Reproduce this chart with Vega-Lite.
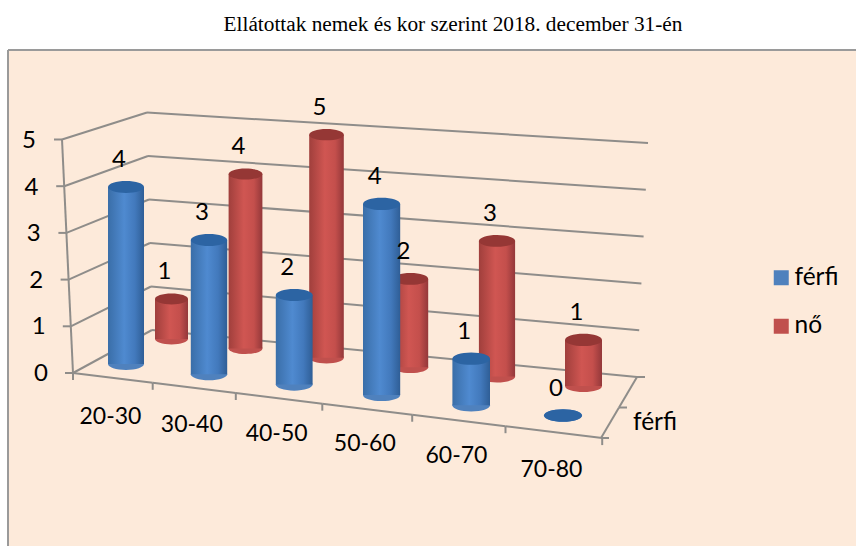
{
"$schema":"https://vega.github.io/schema/vega-lite/v6.json",
"width":848,"height":496,
"autosize":{"type":"none"},
"padding":{"left":8,"top":50,"right":0,"bottom":0},
"background":"#ffffff",
"config":{"view":{"fill":"#FDEADA","stroke":null},"text":{"font":"Lato","fontSize":24,"color":"#000000"}},
"title":{"text":"Ellátottak nemek és kor szerint 2018. december 31-én","font":"Liberation Serif","fontSize":21.3,"fontWeight":"normal","color":"#000000","anchor":"middle","dx":21,"offset":14},
"datasets":{
"oszlopok":[
{"kor":"20-30","nem":"férfi","n":4,"v":4.07},{"kor":"30-40","nem":"férfi","n":3,"v":3.09},{"kor":"40-50","nem":"férfi","n":2,"v":2.06},{"kor":"50-60","nem":"férfi","n":4,"v":4.39},{"kor":"60-70","nem":"férfi","n":1,"v":1.07},{"kor":"70-80","nem":"férfi","n":0,"v":0},
{"kor":"20-30","nem":"nő","n":1,"v":0.92},{"kor":"30-40","nem":"nő","n":4,"v":4.01},{"kor":"40-50","nem":"nő","n":5,"v":5.13},{"kor":"50-60","nem":"nő","n":2,"v":2.03},{"kor":"60-70","nem":"nő","n":3,"v":3.12},{"kor":"70-80","nem":"nő","n":1,"v":1.06}],
"szintek":[{"k":0},{"k":1},{"k":2},{"k":3},{"k":4},{"k":5}],
"hatarok":[{"c":0},{"c":1},{"c":2},{"c":3},{"c":4},{"c":5},{"c":6}],
"korok":[{"c":0,"kor":"20-30"},{"c":1,"kor":"30-40"},{"c":2,"kor":"40-50"},{"c":3,"kor":"50-60"},{"c":4,"kor":"60-70"},{"c":5,"kor":"70-80"}],
"sorok":[{"d":0},{"d":1},{"d":2}]
},
"data":{"name":"oszlopok"},
"transform":[
{"calculate":"indexof(['20-30','30-40','40-50','50-60','60-70','70-80'],datum.kor)","as":"c"},
{"calculate":"datum.nem==='férfi'?0:1","as":"d"},
{"calculate":"datum.d===0?126+81.9*datum.c+1.1*datum.c*datum.c:[171.5,245.5,326.5,410.5,497,583.5][datum.c]","as":"cx"},
{"calculate":"datum.d===0?364+10.3*datum.c:339+9.4*datum.c","as":"yb"},
{"calculate":"datum.d===0?36+0.4*datum.c:33+0.8*datum.c","as":"w"},
{"calculate":"datum.yb-datum.v*43.5","as":"top"},
{"calculate":"datum.w*datum.w","as":"s"}
],
"encoding":{
"x":{"field":"x","type":"quantitative","axis":null,"scale":{"domain":[8,856],"nice":false,"zero":false}},
"y":{"field":"y","type":"quantitative","axis":null,"scale":{"domain":[546,50],"nice":false,"zero":false}}
},
"layer":[
{"data":{"values":[{"keret":"bal"}]},"mark":{"type":"rule","stroke":"#9a9a9a","strokeWidth":2},"encoding":{"x":{"value":0},"y":{"value":0},"y2":{"value":496}}},
{"data":{"values":[{"keret":"felső"}]},"mark":{"type":"rule","stroke":"#9a9a9a","strokeWidth":2},"encoding":{"y":{"value":0},"x":{"value":0},"x2":{"value":848}}},
{"data":{"name":"szintek"},"transform":[{"calculate":"73-2.2*datum.k","as":"x"},{"calculate":"373-46.7*datum.k","as":"y"},{"calculate":"152-datum.k","as":"x2"},{"calculate":"330-43.5*datum.k","as":"y2"}],"mark":{"type":"rule","stroke":"#8f8d8a","strokeWidth":2},"encoding":{"x2":{"field":"x2"},"y2":{"field":"y2"}}},
{"data":{"name":"szintek"},"transform":[{"calculate":"152-datum.k","as":"x"},{"calculate":"330-43.5*datum.k","as":"y"},{"calculate":"637+2.2*datum.k","as":"x2"},{"calculate":"377-46.8*datum.k","as":"y2"}],"mark":{"type":"rule","stroke":"#8f8d8a","strokeWidth":2},"encoding":{"x2":{"field":"x2"},"y2":{"field":"y2"}}},
{"data":{"name":"szintek"},"transform":[{"calculate":"73-2.2*datum.k-8","as":"x"},{"calculate":"373-46.7*datum.k","as":"y"},{"calculate":"73-2.2*datum.k","as":"x2"},{"calculate":"373-46.7*datum.k","as":"y2"}],"mark":{"type":"rule","stroke":"#8f8d8a","strokeWidth":2},"encoding":{"x2":{"field":"x2"},"y2":{"field":"y2"}}},
{"data":{"name":"szintek"},"transform":[{"filter":"datum.k<5"},{"calculate":"73-2.2*datum.k","as":"x"},{"calculate":"373-46.7*datum.k","as":"y"},{"calculate":"73-2.2*(datum.k+1)","as":"x2"},{"calculate":"373-46.7*(datum.k+1)","as":"y2"}],"mark":{"type":"rule","stroke":"#8f8d8a","strokeWidth":2},"encoding":{"x2":{"field":"x2"},"y2":{"field":"y2"}}},
{"data":{"name":"szintek"},"transform":[{"calculate":"41-2.4*datum.k","as":"x"},{"calculate":"374-46.6*datum.k","as":"y"}],"mark":{"type":"text","align":"center","baseline":"middle"},"encoding":{"text":{"field":"k","type":"nominal"}}},
{"data":{"name":"hatarok"},"transform":[{"calculate":"73+78*datum.c+1.7*datum.c*datum.c","as":"x"},{"calculate":"373+0.123*(datum.x-73)","as":"y"},{"calculate":"datum.x","as":"x2"},{"calculate":"datum.y+7","as":"y2"}],"mark":{"type":"rule","stroke":"#8f8d8a","strokeWidth":2},"encoding":{"x2":{"field":"x2"},"y2":{"field":"y2"}}},
{"data":{"name":"hatarok"},"transform":[{"filter":"datum.c<6"},{"calculate":"73+78*datum.c+1.7*datum.c*datum.c","as":"x"},{"calculate":"373+0.123*(datum.x-73)","as":"y"},{"calculate":"73+78*(datum.c+1)+1.7*(datum.c+1)*(datum.c+1)","as":"x2"},{"calculate":"373+0.123*(datum.x2-73)","as":"y2"}],"mark":{"type":"rule","stroke":"#8f8d8a","strokeWidth":2},"encoding":{"x2":{"field":"x2"},"y2":{"field":"y2"}}},
{"data":{"name":"sorok"},"transform":[{"calculate":"601+18*datum.d","as":"x"},{"calculate":"438-30.5*datum.d","as":"y"},{"calculate":"datum.x+8","as":"x2"},{"calculate":"datum.y","as":"y2"}],"mark":{"type":"rule","stroke":"#8f8d8a","strokeWidth":2},"encoding":{"x2":{"field":"x2"},"y2":{"field":"y2"}}},
{"data":{"name":"sorok"},"transform":[{"filter":"datum.d<2"},{"calculate":"601+18*datum.d","as":"x"},{"calculate":"438-30.5*datum.d","as":"y"},{"calculate":"601+18*(datum.d+1)","as":"x2"},{"calculate":"438-30.5*(datum.d+1)","as":"y2"}],"mark":{"type":"rule","stroke":"#8f8d8a","strokeWidth":2},"encoding":{"x2":{"field":"x2"},"y2":{"field":"y2"}}},
{"data":{"name":"korok"},"transform":[{"calculate":"71+78*(datum.c+0.5)+1.7*(datum.c+0.5)*(datum.c+0.5)","as":"x"},{"calculate":"417+7*datum.c+0.7*datum.c*datum.c","as":"y"}],"mark":{"type":"text","align":"center","baseline":"middle","fontSize":23},"encoding":{"text":{"field":"kor","type":"nominal"}}},
{"data":{"values":[{"sor":"férfi"}]},"transform":[{"calculate":"655","as":"x"},{"calculate":"423","as":"y"}],"mark":{"type":"text","align":"center","baseline":"middle","fontSize":24.5},"encoding":{"text":{"field":"sor","type":"nominal"}}},
{"transform":[{"calculate":"datum.cx","as":"x"},{"calculate":"datum.yb","as":"y"}],"mark":{"type":"point","filled":true,"opacity":1,"strokeWidth":0,"shape":"M-1,0A1,0.33,0,1,1,1,0A1,0.33,0,1,1,-1,0Z"},"encoding":{"size":{"field":"s","type":"quantitative","scale":null},"color":{"field":"nem","type":"nominal","scale":{"domain":["férfi","nő"],"range":["#4F81BD","#C0504D"]},"legend":{"title":null,"orient":"none","legendX":761,"legendY":215.5,"symbolType":"square","symbolSize":225,"symbolStrokeWidth":0,"symbolOpacity":1,"labelFont":"Lato","labelFontSize":24.5,"labelColor":"#000000","rowPadding":23.5,"labelOffset":1}}}},
{"transform":[{"filter":"datum.d===1"},{"calculate":"datum.cx-datum.w/2","as":"x"},{"calculate":"datum.cx+datum.w/2","as":"x2"},{"calculate":"datum.top","as":"y"}],"mark":{"type":"rect","fill":{"x1":0,"y1":0,"x2":1,"y2":0,"gradient":"linear","stops":[{"offset":0,"color":"#A03F3C"},{"offset":0.45,"color":"#D05652"},{"offset":0.75,"color":"#C44F4C"},{"offset":1,"color":"#94383A"}]}},"encoding":{"x2":{"field":"x2"},"y2":{"field":"yb"}}},
{"transform":[{"filter":"datum.d===1"},{"calculate":"datum.cx","as":"x"},{"calculate":"datum.top","as":"y"}],"mark":{"type":"point","filled":true,"opacity":1,"strokeWidth":0,"fill":"#953735","shape":"M-1,0A1,0.33,0,1,1,1,0A1,0.33,0,1,1,-1,0Z"},"encoding":{"size":{"field":"s","type":"quantitative","scale":null}}},
{"transform":[{"filter":"datum.d===0"},{"calculate":"datum.cx-datum.w/2","as":"x"},{"calculate":"datum.cx+datum.w/2","as":"x2"},{"calculate":"datum.top","as":"y"}],"mark":{"type":"rect","fill":{"x1":0,"y1":0,"x2":1,"y2":0,"gradient":"linear","stops":[{"offset":0,"color":"#3A6EA8"},{"offset":0.45,"color":"#4F8AD0"},{"offset":0.75,"color":"#4279BC"},{"offset":1,"color":"#2F5E96"}]}},"encoding":{"x2":{"field":"x2"},"y2":{"field":"yb"}}},
{"transform":[{"filter":"datum.d===0"},{"calculate":"datum.cx","as":"x"},{"calculate":"datum.top","as":"y"}],"mark":{"type":"point","filled":true,"opacity":1,"strokeWidth":0,"fill":"#2C64A3","shape":"M-1,0A1,0.33,0,1,1,1,0A1,0.33,0,1,1,-1,0Z"},"encoding":{"size":{"field":"s","type":"quantitative","scale":null}}},
{"transform":[{"calculate":"datum.cx-7","as":"x"},{"calculate":"datum.top-27","as":"y"}],"mark":{"type":"text","align":"center","baseline":"middle"},"encoding":{"text":{"field":"n","type":"nominal"}}}
]
}
